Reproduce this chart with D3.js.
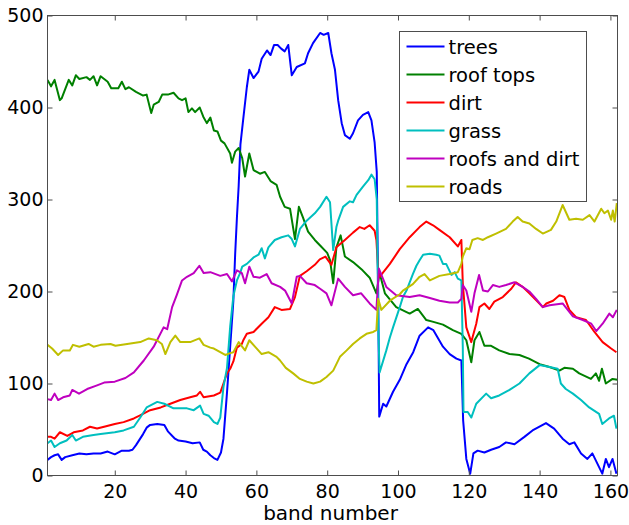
<!DOCTYPE html>
<html>
<head>
<meta charset="utf-8">
<script src="https://cdn.jsdelivr.net/npm/d3@7"></script>
<style>
  body { margin: 0; background: #fff; }
  svg { display: block; }
  text { font-family: "DejaVu Sans", sans-serif; fill: #000; }
</style>
</head>
<body>
<svg id="chart"></svg>
<script>
const width = 629;
const height = 525;

// legend names and line colours (MATLAB default order)
const seriesNames = ["trees", "roof tops", "dirt", "grass", "roofs and dirt", "roads"];
const seriesColors = ["#0000ff", "#008000", "#ff0000", "#00bfbf", "#bf00bf", "#bfbf00"];

const xTicks = [20, 40, 60, 80, 100, 120, 140, 160];
const yTicks = [0, 100, 200, 300, 400, 500];

// [band, value] pairs
const trees = [[1,17],[2,20],[3,22],[4,23],[5,17],[6,20],[8,22],[10,24],[12,23],[14,24],[16,24],[18,26],[20,23],[22,27],[24,27],[25,28],[26,33],[28,45],[29,52],[30,55],[32,56],[34,55],[35,48],[37,40],[38,38],[40,37],[42,35],[44,36],[45,28],[46,26],[47,22],[48,19],[49,17],[50,25],[50.7,40],[51.7,90],[52.6,140],[53.5,190],[54,240],[54.5,280],[55,315],[55.5,360],[56.3,388],[57.3,422],[58,441],[59.2,432],[60.6,439],[61.5,453],[63,462],[64,457],[65,468],[66,468],[67,464],[68,461],[69,468],[70,435],[71.4,444],[73.7,448],[74.6,459],[76,470],[78,481],[79,479],[80.3,481],[81.2,459],[82.2,441],[83.1,408],[84.1,383],[85,370],[86.4,366],[87.3,372],[88.7,386],[90.1,392],[91.6,395],[92.5,386],[93.4,362],[94,330],[94.4,200],[94.7,64],[95.8,78],[96.7,75],[98.6,91],[100.5,104],[102.4,121],[104.3,134],[106.1,152],[108.5,161],[110,158],[112.7,140],[114.6,132],[116.5,127],[117.9,125],[118.4,60],[119.3,18],[120.4,2],[121.3,24],[122.5,27],[124.4,25],[126.3,28],[128.6,31],[130.5,36],[132.9,34],[135.7,42],[138,49],[141.8,57],[144.1,51],[146.5,40],[148.4,34],[149.8,36],[151.7,24],[153.5,18],[154.9,24],[157.7,2],[158.7,18],[159.6,9],[160.6,18],[161.7,2]];

const roofTops = [[1,430],[2,423],[3,430],[4.5,408],[5,410],[7,430],[8,424],[9,435],[10,431],[12,433],[13,430],[14,434],[15,424],[16,434],[18,428],[19,421],[21,421],[22,428],[23,420],[24,422],[26,417],[28,413],[29,414],[30.3,394],[31,403],[32.4,406],[33.4,414],[35,414],[36.6,416],[38,410],[39,408],[40,410],[40.8,395],[41.8,399],[42.7,395],[44,400],[45,390],[46,383],[47,389],[48,375],[49,374],[50,364],[51,361],[52.6,350],[53.1,340],[54,352],[55,356],[56,345],[56.8,325],[58,350],[59.2,332],[61,328],[62.4,330],[64,320],[65.7,316],[66.7,303],[68,292],[69.5,290],[70.9,257],[72,292],[73.2,280],[74.6,265],[76.5,256],[78,250],[80,242],[80.8,234],[81.7,209],[82.6,248],[83.8,261],[85,238],[87.3,232],[90,223],[92,215],[93.9,198],[94.8,220],[96.3,198],[99.5,183],[103.3,176],[105.6,181],[108,169],[110,167],[112.7,164],[115.5,158],[117.9,154],[119.3,147],[120.7,123],[121.6,147],[123,156],[124.4,141],[126.3,141],[128.6,136],[131.5,132],[134.3,131],[137,127],[140,121],[142.8,118],[145.6,114],[147,117],[149.4,116],[151.2,111],[154.5,105],[155.9,111],[156.8,103],[157.6,116],[158.7,100],[160.6,105],[162,104]];

const dirt = [[1,42],[2,42],[3,40],[4.5,47],[6.6,43],[8.4,47],[11,49],[13,53],[15,51],[17,53],[20,56],[22.5,58],[25.4,62],[27,65],[30,71],[33,74],[35.7,78],[38.5,82],[41.3,85],[43.2,87],[44.1,91],[45.1,85],[48,87],[49.8,90],[50.7,100],[51.7,111],[52.6,116],[53.5,124],[54.5,139],[55.9,143],[56.3,147],[57.3,154],[59.2,156],[61.5,165],[63.4,172],[65.2,183],[67.1,180],[69.5,181],[70.9,194],[72.3,217],[74.2,222],[76.5,229],[77.9,235],[79.5,238],[81.2,229],[82.6,248],[85,256],[87.3,264],[89.2,270],[90.5,268],[92,272],[93.4,266],[93.9,256],[94.4,223],[94.8,216],[97.7,230],[100.5,246],[103.3,259],[106.1,270],[108,276],[109.9,272],[111.7,267],[114.6,259],[116.9,249],[117.9,256],[118.3,209],[119.3,161],[120.7,145],[122.1,165],[123,183],[124.4,187],[125.8,181],[127.2,189],[129.6,194],[132,203],[133.3,210],[135.2,205],[137.1,198],[139.4,189],[140.9,183],[141.9,187],[143.8,190],[145.6,196],[147,194],[148.4,180],[150.3,172],[153.1,169],[155.5,156],[157.8,145],[160.2,138],[161.7,134]];

const grass = [[1,35],[2,38],[3,31],[4.5,35],[6.4,38],[8,44],[9,38],[11,42],[14,44],[16,45],[20,47],[22.5,49],[25.4,53],[27.2,63],[29,74],[32,80],[34,78],[36.6,73],[40.4,73],[42.3,71],[44.1,76],[45.1,67],[46.5,65],[48,58],[49,56],[49.8,63],[50.7,96],[51.7,117],[52.6,162],[53.5,195],[54.5,212],[55.4,220],[56,227],[57.3,230],[59.2,237],[60.6,240],[61.5,247],[62.4,236],[63.4,248],[65.2,256],[67.1,259],[69,261],[70,257],[70.9,249],[72.3,268],[74.2,277],[76.5,285],[78,292],[79.8,303],[80.8,297],[81.7,245],[82.6,270],[83.1,277],[84.5,292],[86.4,298],[87.3,297],[88.3,305],[90.1,314],[91.6,321],[92.5,327],[93.4,322],[94,300],[94.5,150],[94.8,112],[96.7,136],[97.7,150],[98.6,161],[100.5,183],[101.4,194],[102.4,201],[104.2,219],[105.2,228],[106.1,234],[107.1,240],[109,241],[110.8,240],[111.7,239],[112.7,230],[113.6,230],[115.1,218],[116,221],[116.9,214],[117.9,212],[118.3,140],[118.5,69],[119.7,69],[120.7,63],[122.1,78],[124.9,89],[126.3,84],[128.6,87],[131.5,93],[134.3,100],[137.1,111],[140,120],[142.8,118],[145.1,116],[146,100],[147.4,94],[149.4,89],[151.7,82],[154,74],[156.8,67],[157.7,56],[159.6,62],[161,65],[161.7,51]];

const roofsAndDirt = [[1,83],[2,82],[3,89],[4,82],[5.4,85],[7.3,87],[8,93],[9.9,89],[12.2,94],[15,98],[17,101],[20,102],[23,106],[25.4,112],[28.2,125],[31,140],[33.8,161],[34.8,159],[36.2,183],[37.5,196],[39,212],[40.4,216],[42.3,220],[43.9,228],[45.1,220],[47,221],[49.8,217],[51.7,219],[53.1,211],[54.5,223],[55.9,220],[56.8,209],[58,227],[59.2,216],[61,215],[62.9,219],[64.3,209],[66.7,205],[68.1,201],[70,187],[71.4,216],[72.3,217],[74.2,209],[76.5,207],[78,203],[79.8,198],[81.2,185],[83.1,214],[85,205],[87.3,196],[89.6,198],[92,187],[93.9,180],[94.6,225],[96.7,205],[99.5,196],[103.3,194],[106.1,196],[109,193],[111.7,190],[114.6,188],[116.9,188],[117.9,192],[118.3,207],[119.3,201],[120.7,178],[121.6,198],[122.9,218],[124,201],[125.4,200],[126.8,207],[128.6,205],[130.5,207],[132.9,210],[135.2,205],[137.1,200],[139,192],[140.9,183],[142.8,185],[146.5,187],[149.4,173],[152.2,169],[154.6,165],[156,157],[157.8,165],[159.7,176],[160.7,172],[161.8,180]];

const roads = [[1,142],[2.3,138],[4,131],[5.4,136],[7.3,136],[8.2,142],[10,140],[12.6,143],[14,140],[16,142],[18.8,143],[20.2,141],[23.5,143],[27.2,145],[29.6,149],[31.9,147],[33.3,143],[34.3,132],[35.7,145],[37.1,152],[38.5,145],[41.3,145],[43.9,149],[45.1,142],[47,139],[48,138],[49.8,134],[51.2,131],[52.6,133],[53.5,134],[55,145],[56.8,136],[58,147],[59.6,140],[61.5,132],[63.4,134],[65.7,129],[66.7,125],[68.3,117],[70.4,111],[72.3,105],[74.2,102],[76.1,100],[78,102],[79.8,107],[81.7,114],[83.6,129],[85.5,136],[87.3,143],[89.2,149],[91.1,154],[93,156],[93.9,158],[94.4,192],[95.3,180],[97.7,190],[100.5,197],[101.4,201],[104.2,208],[106.1,216],[107.5,219],[109,212],[111.7,217],[114.6,219],[116.9,221],[117.9,230],[118.3,238],[119.3,247],[120.2,246],[121,256],[122.5,258],[124,256],[125.4,259],[127.7,263],[130.5,268],[132.4,276],[133.8,281],[135.2,276],[137.1,274],[139,268],[140.9,263],[143.2,267],[144.7,276],[146.5,294],[148.4,278],[150.3,279],[152.2,278],[154.1,283],[155.5,276],[157.4,290],[158.3,285],[159.3,288],[160.2,278],[160.7,288],[161.2,276],[161.8,296]];

const allSeries = [trees, roofTops, dirt, grass, roofsAndDirt, roads];

// plot box
const plotLeft = 47.5, plotRight = 617.5, plotTop = 15.5, plotBottom = 475.5;

const x = d3.scaleLinear().domain([1, 162]).range([plotLeft, plotRight]);
const y = d3.scaleLinear().domain([0, 500]).range([plotBottom, plotTop]);

const svg = d3.select("#chart").attr("width", width).attr("height", height);

svg.append("defs").append("clipPath").attr("id", "plot-clip")
    .append("rect")
    .attr("x", plotLeft).attr("y", plotTop)
    .attr("width", plotRight - plotLeft).attr("height", plotBottom - plotTop);

const line = d3.line()
    .x(d => x(d[0]))
    .y(d => y(d[1]));

const lines = svg.append("g").attr("clip-path", "url(#plot-clip)");
allSeries.forEach((s, i) => {
    lines.append("path")
        .datum(s)
        .attr("d", line)
        .attr("fill", "none")
        .attr("stroke", seriesColors[i])
        .attr("stroke-width", 2)
        .attr("stroke-linejoin", "round");
});

// axes: MATLAB box with inward ticks on all four sides
const axisColor = "#4d4d4d";
const tickLen = 5;
const fontSize = "19px";

function styleAxis(g) {
    g.select(".domain").remove();
    g.selectAll(".tick line").attr("stroke", axisColor);
    g.selectAll(".tick text").style("font-size", fontSize).attr("fill", "#000");
}

svg.append("g")
    .attr("transform", `translate(0,${plotBottom})`)
    .call(d3.axisBottom(x).tickValues(xTicks).tickSizeInner(-tickLen).tickSizeOuter(0).tickPadding(9))
    .call(styleAxis);

svg.append("g")
    .attr("transform", `translate(0,${plotTop})`)
    .call(d3.axisTop(x).tickValues(xTicks).tickSizeInner(-tickLen).tickSizeOuter(0).tickFormat(""))
    .call(styleAxis);

svg.append("g")
    .attr("transform", `translate(${plotLeft},0)`)
    .call(d3.axisLeft(y).tickValues(yTicks).tickSizeInner(-tickLen).tickSizeOuter(0).tickPadding(4))
    .call(styleAxis);

svg.append("g")
    .attr("transform", `translate(${plotRight},0)`)
    .call(d3.axisRight(y).tickValues(yTicks).tickSizeInner(-tickLen).tickSizeOuter(0).tickFormat(""))
    .call(styleAxis);

svg.append("rect")
    .attr("x", plotLeft).attr("y", plotTop)
    .attr("width", plotRight - plotLeft).attr("height", plotBottom - plotTop)
    .attr("fill", "none")
    .attr("stroke", axisColor)
    .attr("shape-rendering", "crispEdges");

svg.append("text")
    .attr("x", (plotLeft + plotRight) / 2 - 2)
    .attr("y", 520)
    .attr("text-anchor", "middle")
    .style("font-size", "20px")
    .text("band number");

// legend
const legend = svg.append("g").attr("transform", "translate(399.5,31.5)");
legend.append("rect")
    .attr("width", 187).attr("height", 170)
    .attr("fill", "#fff")
    .attr("stroke", axisColor)
    .attr("shape-rendering", "crispEdges");

seriesNames.forEach((name, i) => {
    const rowY = 15 + i * 28;
    legend.append("line")
        .attr("x1", 7).attr("x2", 45)
        .attr("y1", rowY).attr("y2", rowY)
        .attr("stroke", seriesColors[i])
        .attr("stroke-width", 2);
    legend.append("text")
        .attr("x", 49).attr("y", rowY + 7)
        .style("font-size", "19.5px")
        .text(name);
});
</script>
</body>
</html>
